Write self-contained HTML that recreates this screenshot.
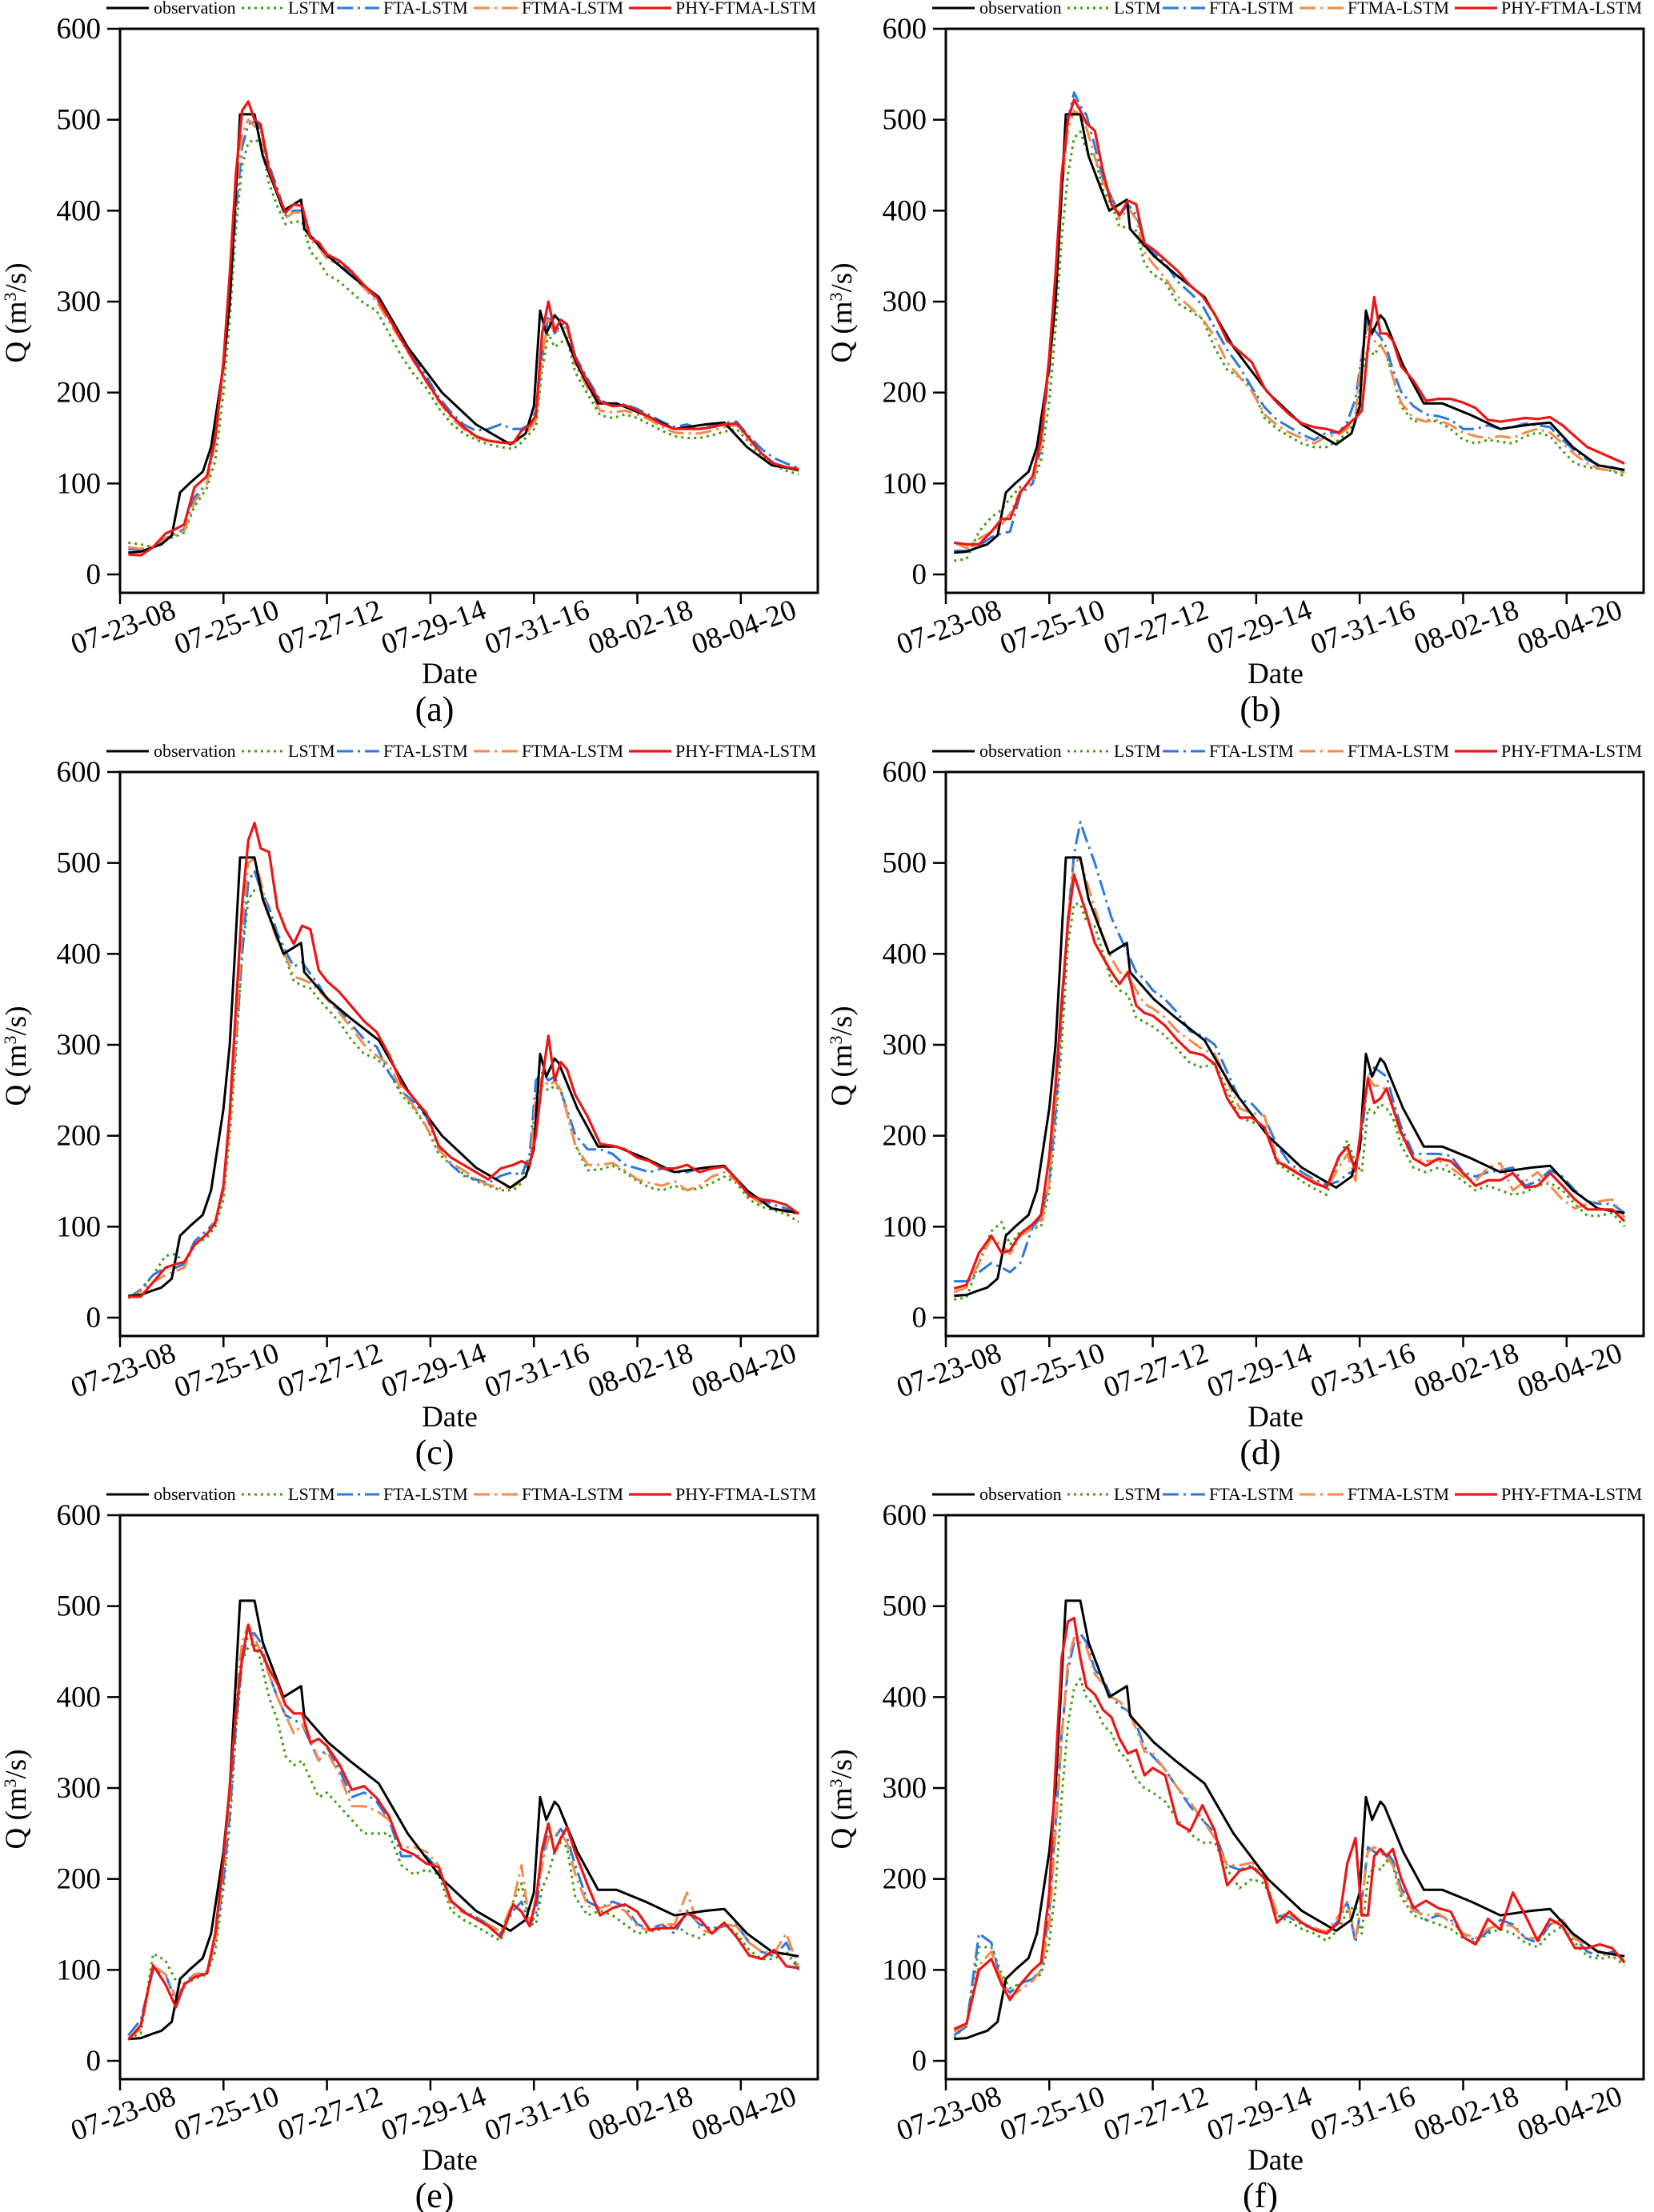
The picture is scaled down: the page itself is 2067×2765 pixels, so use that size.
<!DOCTYPE html>
<html><head><meta charset="utf-8"><style>
html,body{margin:0;padding:0;background:#fff;}
svg{display:block;}
svg text{font-family:"Liberation Serif","Times New Roman",serif;}
</style></head><body>
<svg id="fig" width="2067" height="2765" viewBox="0 0 2067 2765" xmlns="http://www.w3.org/2000/svg"></svg>
<script>
// ---- data ----
const xTickHours = [0,50,100,150,200,250,300];
const xTickLabels = ["07-23-08","07-25-10","07-27-12","07-29-14","07-31-16","08-02-18","08-04-20"];
const yTicks = [0,100,200,300,400,500,600];
const seriesNames = ["observation","LSTM","FTA-LSTM","FTMA-LSTM","PHY-FTMA-LSTM"];
const panelLabels = ["(a)","(b)","(c)","(d)","(e)","(f)"];

const obsT = [4,10,16,20,25,29,33.5,40,44,50,53,55.5,58,65,69,79,87.5,89,100.6,111,125,139,155.6,172,188.6,196,200,203,206,210,212,221,231,240,254,268,283,292,303,315,328];
const obsV = [24,25,30,33,43,90,100,113,140,230,300,400,506,506,460,400,412,380,350,330,305,250,200,165,143,155,185,290,265,285,280,230,188,188,175,160,165,167,140,120,115];

const modelT = [4,10,16,22,27,31,36,42,46,50, 53,56,59,62,65,68,72,76,80,84, 88,92,96,100,106,112,118,124,130,136, 142,148,154,160,166,172,178,184,190,194, 198,201,204,207,210,213,216,220,226,232, 238,244,250,256,262,268,274,280,286,292, 298,304,310,316,322,328];

// panel (a)
const aLSTM = [35,33,30,38,42,46,75,95,125,200, 280,380,450,475,478,475,430,405,385,388, 388,355,345,330,322,310,298,290,265,240, 220,205,183,166,155,148,143,140,138,145, 155,162,225,265,250,255,260,222,198,175, 172,176,172,165,158,152,150,150,153,157, 160,145,130,120,114,110];
const aFTA = [28,27,30,40,45,50,85,100,145,225, 300,400,470,495,498,490,450,425,395,400, 400,372,365,350,342,332,318,303,282,260, 238,218,195,178,165,158,160,165,160,160, 165,180,240,285,265,275,275,240,215,192, 185,187,182,175,168,162,165,160,163,167, 168,152,138,128,122,117];
const aFTMA = [30,28,32,40,44,48,80,100,145,225, 310,415,485,500,493,488,440,418,392,398, 398,368,360,347,340,328,315,300,278,256, 234,212,190,172,160,150,147,146,145,150, 160,170,240,280,265,270,272,230,205,180, 178,180,176,170,162,156,155,155,158,162, 164,148,133,122,117,114];
const aPHY = [22,21,30,45,50,55,96,108,150,235, 330,440,510,520,500,495,445,420,398,407, 405,370,365,352,345,333,318,305,282,258, 235,213,192,175,162,152,147,145,144,158, 164,175,265,300,268,280,275,238,212,190, 185,186,180,173,165,160,160,160,162,165, 166,150,133,122,118,116];
// panel (b)
const bLSTM = [15,17,47,63,71,84,96,100,125,190, 270,370,440,480,487,467,459,423,407,382, 382,378,342,330,322,298,290,281,249,225, 217,205,172,160,152,144,140,140,148,156, 168,221,249,241,253,241,217,185,168,170, 168,160,148,144,148,146,144,152,156,152, 136,122,118,116,114,108];
const bFTA = [26,26,31,41,45,47,88,100,140,225, 310,420,500,530,515,505,471,435,415,395, 407,395,366,354,342,322,310,296,271,247, 228,205,184,170,162,154,148,156,156,168, 193,241,282,269,261,249,225,201,185,176, 174,170,160,160,164,160,162,166,164,162, 148,136,126,120,118,114];
const bFTMA = [35,29,39,47,55,67,92,102,142,230, 315,420,490,510,505,491,459,431,415,391, 403,391,354,342,326,306,294,281,261,233, 217,201,176,164,156,150,144,152,154,160, 176,241,273,257,253,241,217,189,172,168, 170,164,156,152,150,152,150,156,160,156, 144,132,122,116,114,112];
const bPHY = [35,33,33,47,61,61,90,108,150,240, 330,440,500,522,510,496,488,443,407,395, 411,407,364,358,346,334,318,306,286,257, 245,233,205,189,176,166,162,160,156,164, 172,180,250,305,265,265,257,229,213,191, 193,193,189,183,170,168,170,172,171,173, 164,152,140,134,128,122];
// panel (c)
const cLSTM = [23,30,47,68,70,60,80,88,100,130, 200,290,400,460,470,470,440,420,395,370, 365,362,350,340,325,305,290,285,270,245, 230,210,180,168,158,150,145,140,140,148, 175,240,255,250,255,250,225,190,162,163, 167,160,150,143,140,145,140,142,148,155, 148,130,122,118,114,105];
const cFTA = [21,31,47,55,55,59,84,96,106,145, 220,300,400,480,491,471,451,423,403,386, 391,378,366,350,338,322,306,298,269,249, 237,221,189,168,156,152,148,156,160,156, 180,261,269,261,265,249,229,201,185,185, 180,168,164,160,164,160,160,164,164,166, 152,136,130,124,120,114];
const cFTMA = [21,29,39,47,51,55,80,92,106,140, 215,310,430,500,505,480,440,415,398,375, 372,368,360,350,335,318,300,288,278,250, 232,210,185,170,162,152,146,142,144,150, 165,245,265,255,260,250,225,190,168,168, 170,162,152,148,145,150,140,145,155,160, 150,135,125,120,116,114];
const cPHY = [23,23,39,55,59,61,80,92,104,145, 225,340,455,525,544,516,512,451,427,411, 431,427,382,370,358,342,326,314,289,257, 241,225,189,176,168,160,152,164,168,172, 168,201,261,310,261,281,273,245,221,191, 189,185,176,172,164,164,168,160,164,166, 152,134,130,128,124,114];
// panel (d)
const dLSTM = [20,22,60,95,105,80,95,98,100,140, 210,300,410,455,455,435,430,400,370,360, 355,330,325,320,310,295,280,275,280,250, 220,215,210,170,160,150,142,135,175,195, 170,160,230,225,235,230,220,190,165,160, 165,160,150,140,145,140,135,138,145,148, 140,125,112,112,115,100];
const dFTA = [40,40,50,60,55,50,60,100,110,150, 225,330,440,510,545,525,500,470,440,420, 400,380,372,360,350,335,315,310,300,270, 240,235,220,190,170,160,152,146,150,158, 162,200,265,275,270,265,240,210,180,180, 180,178,160,155,160,162,165,145,150,162, 155,140,128,125,125,115];
const dFTMA = [28,33,60,88,80,70,90,98,105,150, 240,340,440,500,505,480,450,420,395,380, 375,360,345,340,330,315,305,295,290,260, 230,225,222,175,165,158,150,142,165,180, 150,215,265,255,255,250,230,200,175,172, 173,165,155,150,165,170,140,150,160,145, 130,120,125,128,130,110];
const dPHY = [32,36,71,90,71,74,92,103,113,177, 257,348,433,487,465,444,412,396,380,367, 380,343,335,332,321,305,292,289,279,241, 220,220,209,172,164,156,148,143,177,188, 161,215,263,236,241,252,231,204,175,167, 175,172,159,145,151,151,159,143,145,159, 145,130,119,119,119,106];
// panel (e)
const eLSTM = [25,30,118,110,88,85,90,95,120,190, 260,360,440,455,460,440,400,375,335,325, 330,310,290,295,280,265,250,250,250,215, 205,210,205,165,155,148,140,132,175,195, 150,150,190,205,230,240,235,180,160,165, 160,150,140,142,145,150,140,135,145,150, 140,122,112,112,120,100];
const eFTA = [28,45,100,95,65,85,95,96,130,200, 270,370,440,470,470,460,425,400,380,375, 370,350,330,345,320,290,295,285,265,225, 225,225,210,175,165,158,150,140,165,175, 150,160,225,250,245,255,245,215,175,168, 175,170,150,145,150,140,165,150,145,148, 150,130,120,115,130,100];
const eFTMA = [25,35,105,95,70,80,95,98,130,215, 290,400,460,480,465,450,425,400,380,360, 370,355,330,340,315,280,280,275,265,235, 235,230,215,170,163,156,150,142,175,215, 150,180,215,245,250,250,240,205,170,168, 172,165,148,143,150,150,185,145,140,150, 148,130,120,118,140,102];
const ePHY = [23,39,105,84,59,84,92,96,140,221, 302,382,443,479,451,451,431,415,391,382, 382,350,354,346,326,298,302,289,269,233, 227,217,213,176,164,156,148,136,172,164, 148,176,233,261,229,245,257,229,193,160, 168,172,164,144,146,146,162,156,140,152, 136,116,112,122,104,102];
// panel (f)
const fLSTM = [25,40,125,125,95,80,85,90,95,130, 190,290,370,410,420,400,390,370,360,340, 330,310,300,295,285,265,250,240,240,210, 190,200,195,160,153,145,140,132,145,165, 170,140,200,215,210,220,215,180,160,155, 150,145,135,130,140,145,140,130,125,140, 148,130,115,112,115,105];
const fFTA = [28,38,140,130,85,75,85,90,100,165, 260,360,430,460,470,460,430,420,400,390, 385,370,345,335,320,300,280,265,250,215, 210,215,200,160,158,150,145,140,155,175, 130,175,235,230,225,230,220,190,170,155, 160,155,140,132,142,155,150,135,130,150, 155,135,120,115,120,110];
const fFTMA = [32,40,105,120,90,70,78,88,100,150, 250,355,440,465,460,455,425,415,400,395, 385,365,340,338,320,300,285,265,245,215, 215,218,205,162,160,152,146,142,160,175, 135,175,230,235,230,225,215,185,165,160, 162,152,140,135,145,150,148,135,135,150, 155,135,125,120,115,110];
const fPHY = [35,41,100,112,84,67,84,100,108,185, 322,443,483,487,443,411,403,386,378,354, 338,342,314,322,314,261,253,281,253,193, 209,213,201,152,164,152,144,140,152,217, 245,160,160,225,233,225,233,201,168,176, 168,164,136,128,156,144,185,160,132,156, 148,124,124,128,124,108];

const panelModels = [
  [aLSTM,aFTA,aFTMA,aPHY],[bLSTM,bFTA,bFTMA,bPHY],[cLSTM,cFTA,cFTMA,cPHY],
  [dLSTM,dFTA,dFTMA,dPHY],[eLSTM,eFTA,eFTMA,ePHY],[fLSTM,fFTA,fFTMA,fPHY]
];

// ---- drawing ----
const NS = "http://www.w3.org/2000/svg";
const svg = document.getElementById('fig');
const styles = [
  {stroke:"#000000", dash:"", w:3},
  {stroke:"#3f9f0f", dash:"3 5", w:3},
  {stroke:"#2a78e0", dash:"20 6 3 6", w:3},
  {stroke:"#f5894a", dash:"20 6 3 6", w:3},
  {stroke:"#ee1515", dash:"", w:3.2}
];
function mk(tag, attrs, parent){
  const e = document.createElementNS(NS, tag);
  for (const k in attrs) e.setAttribute(k, attrs[k]);
  (parent||svg).appendChild(e);
  return e;
}
const colLeft = [150, 1182];
const rowTop = [36, 965, 1894];
const PW = 872, PH = 705, YMAX = 600, YSPAN = 620.2, XSPAN = 337.2;

for (let p = 0; p < 6; p++) {
  const left = colLeft[p % 2], top = rowTop[Math.floor(p / 2)];
  const xs = t => left + t / XSPAN * PW;
  const ys = v => top + (YMAX - v) / YSPAN * PH;
  const g = mk('g', {});
  
  

  // legend
  const lg = mk('g', {}, g);
  
  
  const legX = [[-17,36,42],[152,205,210],[271,324,329],[442,497,502],[636,689,694]];
  const ly = top - 26;
  for (let s = 0; s < 5; s++) {
    const le = mk('g', {}, lg);
    
    
    const st = styles[s];
    mk('line', {x1:left+legX[s][0], x2:left+legX[s][1], y1:ly, y2:ly, stroke:st.stroke, 'stroke-width':st.w, 'stroke-dasharray':st.dash}, le);
    const tx = mk('text', {x:left+legX[s][2], y:ly+7, 'font-size':22, fill:'#000'}, le);
    tx.textContent = seriesNames[s];
  }

  // y ticks
  for (let i = 0; i < yTicks.length; i++) {
    const y = ys(yTicks[i]);
    mk('line', {x1:left-16, x2:left, y1:y, y2:y, stroke:'#000', 'stroke-width':2.5}, g);
    const tl = mk('text', {x:left-24, y:y+12, 'font-size':37, 'text-anchor':'end', fill:'#000'}, g);
    
    
    tl.textContent = yTicks[i];
  }
  // x ticks
  const bottom = top + PH;
  for (let i = 0; i < xTickHours.length; i++) {
    const x = xs(xTickHours[i]);
    mk('line', {x1:x, x2:x, y1:bottom, y2:bottom+14, stroke:'#000', 'stroke-width':2.5}, g);
    const cx = x + 8, cy = bottom + 54;
    const tl = mk('text', {x:cx, y:cy, 'font-size':37, 'text-anchor':'middle', fill:'#000', transform:'rotate(-20 '+cx+' '+cy+')'}, g);
    
    
    tl.textContent = xTickLabels[i];
  }
  // axis titles
  const xt = mk('text', {x:left+412, y:bottom+113, 'font-size':37, 'text-anchor':'middle', fill:'#000'}, g);
  
  
  xt.textContent = 'Date';
  const yx = left - 118, yy = top + 355;
  const yt = mk('text', {x:yx, y:yy, 'font-size':37, 'text-anchor':'middle', fill:'#000', transform:'rotate(-90 '+yx+' '+yy+')'}, g);
  
  
  yt.innerHTML = 'Q (m<tspan dy="-12" font-size="22">3</tspan><tspan dy="12">/s)</tspan>';
  const pl = mk('text', {x:left+393, y:bottom+160, 'font-size':44, 'text-anchor':'middle', fill:'#000'}, g);
  
  
  pl.textContent = panelLabels[p];

  // series
  const clipId = 'clip' + p;
  const cp = mk('clipPath', {id:clipId}, g);
  mk('rect', {x:left, y:top, width:PW, height:PH}, cp);
  const sg = mk('g', {'clip-path':'url(#'+clipId+')'}, g);
  const allSeries = [[obsT, obsV]].concat(panelModels[p].map(v => [modelT, v]));
  const order = [1,2,3,0,4];
  for (const s of order) {
    const [T, V] = allSeries[s];
    let d = '';
    for (let i = 0; i < T.length; i++) d += (i ? 'L' : 'M') + xs(T[i]).toFixed(1) + ' ' + ys(V[i]).toFixed(1);
    const st = styles[s];
    const path = mk('path', {d:d, fill:'none', stroke:st.stroke, 'stroke-width':st.w, 'stroke-dasharray':st.dash, 'stroke-linejoin':'round'}, sg);
    
    
  }
  // frame
  const fr = mk('rect', {x:left, y:top, width:PW, height:PH, fill:'none', stroke:'#000', 'stroke-width':3}, g);
  
  
}
</script>
</body></html>
